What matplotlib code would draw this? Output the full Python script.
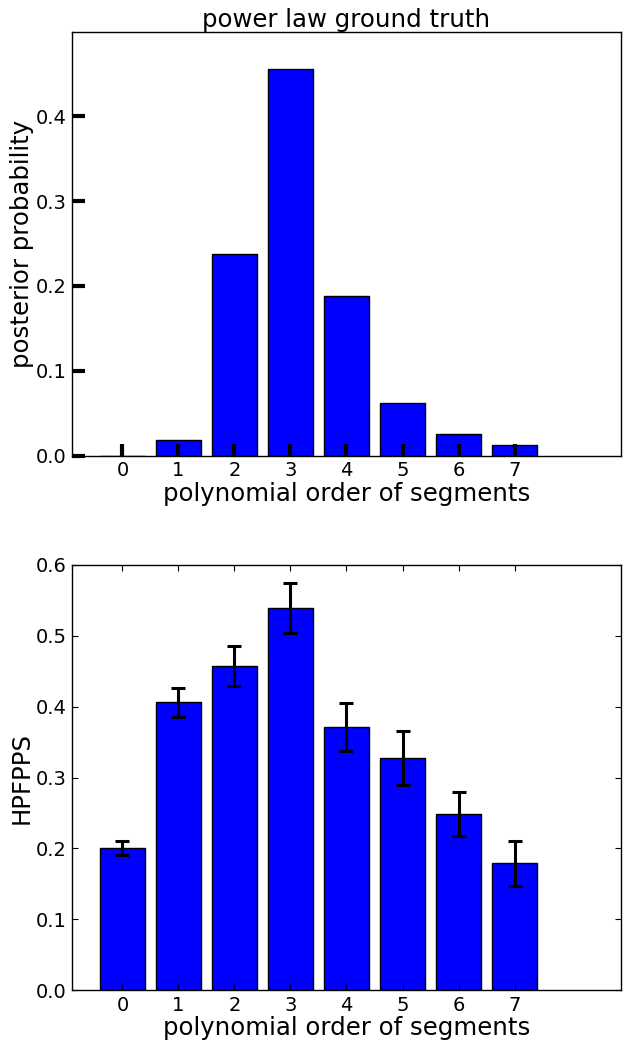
import numpy as np
import matplotlib
matplotlib.use('Agg')
import matplotlib.pyplot as plt

orders = [0, 1, 2, 3, 4, 5, 6, 7]
posterior = [0.0, 0.019, 0.238, 0.456, 0.188, 0.0625, 0.025, 0.0126]
hpfpps = [0.200, 0.406, 0.457, 0.539, 0.371, 0.327, 0.248, 0.179]
hpfpps_err = [0.010, 0.021, 0.028, 0.035, 0.034, 0.038, 0.031, 0.032]

plt.rcParams['font.family'] = 'DejaVu Sans'

fig = plt.figure(figsize=(6.3, 10.47), dpi=100)
fig.patch.set_facecolor('white')

# top panel: posterior over polynomial order
ax1 = fig.add_axes([0.1143, 0.5648, 0.8714, 0.4051])
ax1.bar(orders, posterior, width=0.8, color='blue', edgecolor='black', linewidth=1.0)
ax1.set_xlim(-0.9, 8.9)
ax1.set_ylim(0, 0.5)
ax1.set_xticks(orders)
ax1.set_yticks([0.0, 0.1, 0.2, 0.3, 0.4])
ax1.tick_params(direction='in', length=9, width=3, labelsize=14, pad=4,
                top=False, right=False)
ax1.set_title('power law ground truth', fontsize=17.6, pad=3)
ax1.set_ylabel('posterior probability', fontsize=17.6, labelpad=1)
ax1.set_xlabel('polynomial order of segments', fontsize=17.6, labelpad=1)

# bottom panel: HPFPPS with error bars
ax2 = fig.add_axes([0.1143, 0.0544, 0.8714, 0.4060])
ax2.bar(orders, hpfpps, width=0.8, color='blue', edgecolor='black', linewidth=1.0,
        yerr=hpfpps_err, error_kw=dict(ecolor='black', elinewidth=2.2, capsize=5, capthick=2.2))
ax2.set_xlim(-0.9, 8.9)
ax2.set_ylim(0, 0.6)
ax2.set_xticks(orders)
ax2.set_yticks(np.arange(0, 0.61, 0.1))
ax2.tick_params(direction='in', length=4, width=0.8, labelsize=14, pad=4,
                top=True, right=True)
ax2.set_ylabel('HPFPPS', fontsize=17.6, labelpad=1)
ax2.set_xlabel('polynomial order of segments', fontsize=17.6, labelpad=1)

for ax in (ax1, ax2):
    for s in ax.spines.values():
        s.set_linewidth(1.0)

fig.savefig('out.png', dpi=100, facecolor='white')
